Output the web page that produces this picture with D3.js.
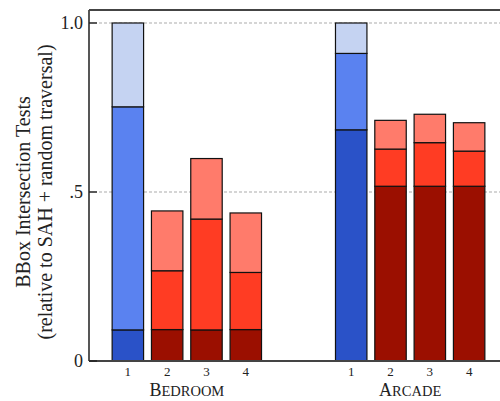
<!DOCTYPE html>
<html>
<head>
<meta charset="utf-8">
<script src="https://cdn.jsdelivr.net/npm/d3@7"></script>
<style>
  body { margin: 0; background: #fff; }
  svg text { font-family: "Liberation Serif", "Times New Roman", "DejaVu Serif", serif; fill: #222; }
</style>
</head>
<body>
<div id="chart"></div>
<script>
/* DATA */
const groups = ["Bedroom", "Arcade"];
const bars = ["1", "2", "3", "4"];
// cumulative heights of the three stacked levels, per group then bar
const levelBottom = [[0.092, 0.093, 0.092, 0.093], [0.684, 0.517, 0.517, 0.517]];
const levelMiddle = [[0.752, 0.267, 0.420, 0.262], [0.910, 0.627, 0.646, 0.621]];
const levelTop    = [[1.0, 0.444, 0.599, 0.438], [1.0, 0.712, 0.730, 0.705]];
const yTicks = [0, 0.5, 1.0];
const yTickLabels = ["0", ".5", "1.0"];
const gridValues = [0.5, 1.0];

/* COLOURS (blue = bar 1, red = others), dark -> light */
const blues = ["#2a52c8", "#5a82f0", "#c5d3f2"];
const reds = ["#9b0f00", "#ff3c23", "#ff7b6b"];

const width = 500, height = 401;
const margin = { top: 10, left: 89, bottom: 40, right: -8 };
const serif = "'Liberation Serif', 'Times New Roman', 'DejaVu Serif', serif";

const svg = d3.select("#chart").append("svg")
  .attr("width", width)
  .attr("height", height)
  .attr("font-family", serif);

const x0 = d3.scaleBand()
  .domain(groups)
  .range([margin.left, width - margin.right])
  .paddingInner(0.296)
  .paddingOuter(0.086);

const x1 = d3.scaleBand()
  .domain(bars)
  .range([0, x0.bandwidth()])
  .paddingInner(0.2)
  .paddingOuter(0.1);

const y = d3.scaleLinear()
  .domain([0, 1])
  .range([361, 23]);

// dotted grid lines
svg.selectAll("line.grid")
  .data(gridValues)
  .join("line")
  .attr("class", "grid")
  .attr("x1", margin.left + 10)
  .attr("x2", width)
  .attr("y1", d => y(d))
  .attr("y2", d => y(d))
  .attr("stroke", "#c8c8c8")
  .attr("stroke-width", 1.5)
  .attr("stroke-dasharray", "3,2");

// build the segments
const segs = [];
groups.forEach((g, gi) => {
  bars.forEach((b, bi) => {
    const levels = [levelBottom[gi][bi], levelMiddle[gi][bi], levelTop[gi][bi]];
    const pal = bi === 0 ? blues : reds;
    levels.forEach((v, li) => {
      const lo = li === 0 ? 0 : levels[li - 1];
      segs.push({ g, b, lo, hi: v, color: pal[li] });
    });
  });
});

svg.selectAll("rect.seg")
  .data(segs)
  .join("rect")
  .attr("class", "seg")
  .attr("x", d => x0(d.g) + x1(d.b))
  .attr("width", x1.bandwidth())
  .attr("y", d => y(d.hi))
  .attr("height", d => y(d.lo) - y(d.hi))
  .attr("fill", d => d.color)
  .attr("stroke", "#111")
  .attr("stroke-width", 1.2);

// frame lines
const axisColor = "#444";
svg.append("line")
  .attr("x1", margin.left).attr("x2", width)
  .attr("y1", margin.top).attr("y2", margin.top)
  .attr("stroke", axisColor).attr("stroke-width", 1.8);
svg.append("line")
  .attr("x1", margin.left).attr("x2", margin.left)
  .attr("y1", margin.top).attr("y2", y(0))
  .attr("stroke", axisColor).attr("stroke-width", 1.8);
svg.append("line")
  .attr("x1", margin.left).attr("x2", width)
  .attr("y1", y(0)).attr("y2", y(0))
  .attr("stroke", axisColor).attr("stroke-width", 1.8);

// y ticks (inward) + labels
svg.selectAll("line.ytick")
  .data(yTicks)
  .join("line")
  .attr("class", "ytick")
  .attr("x1", margin.left).attr("x2", margin.left + 8)
  .attr("y1", d => y(d)).attr("y2", d => y(d))
  .attr("stroke", "#222").attr("stroke-width", 1.5);

svg.selectAll("text.ytick")
  .data(yTicks)
  .join("text")
  .attr("class", "ytick")
  .attr("x", margin.left - 6)
  .attr("y", d => y(d))
  .attr("dy", "0.35em")
  .attr("text-anchor", "end")
  .attr("font-size", 18)
  .text((d, i) => yTickLabels[i]);

// bar number labels
const barLabels = [];
groups.forEach(g => bars.forEach(b => barLabels.push({ g, b })));
svg.selectAll("text.bar")
  .data(barLabels)
  .join("text")
  .attr("class", "bar")
  .attr("x", d => x0(d.g) + x1(d.b) + x1.bandwidth() / 2)
  .attr("y", 376)
  .attr("text-anchor", "middle")
  .attr("font-size", 13)
  .text(d => d.b);

// group labels in small caps
const groupText = svg.selectAll("text.group")
  .data(groups)
  .join("text")
  .attr("class", "group")
  .attr("x", d => x0(d) + x0.bandwidth() / 2)
  .attr("y", 396)
  .attr("text-anchor", "middle");
groupText.append("tspan")
  .attr("font-size", 18)
  .text(d => d[0]);
groupText.append("tspan")
  .attr("font-size", 14.5)
  .text(d => d.slice(1).toUpperCase());

// y axis title
const yTitle = svg.append("text")
  .attr("transform", `translate(0, ${y(0.5)}) rotate(-90)`)
  .attr("text-anchor", "middle")
  .attr("font-size", 20);
yTitle.append("tspan").attr("x", 0).attr("y", 30).text("BBox Intersection Tests");
yTitle.append("tspan").attr("x", 0).attr("y", 52).text("(relative to SAH + random traversal)");
</script>
</body>
</html>
